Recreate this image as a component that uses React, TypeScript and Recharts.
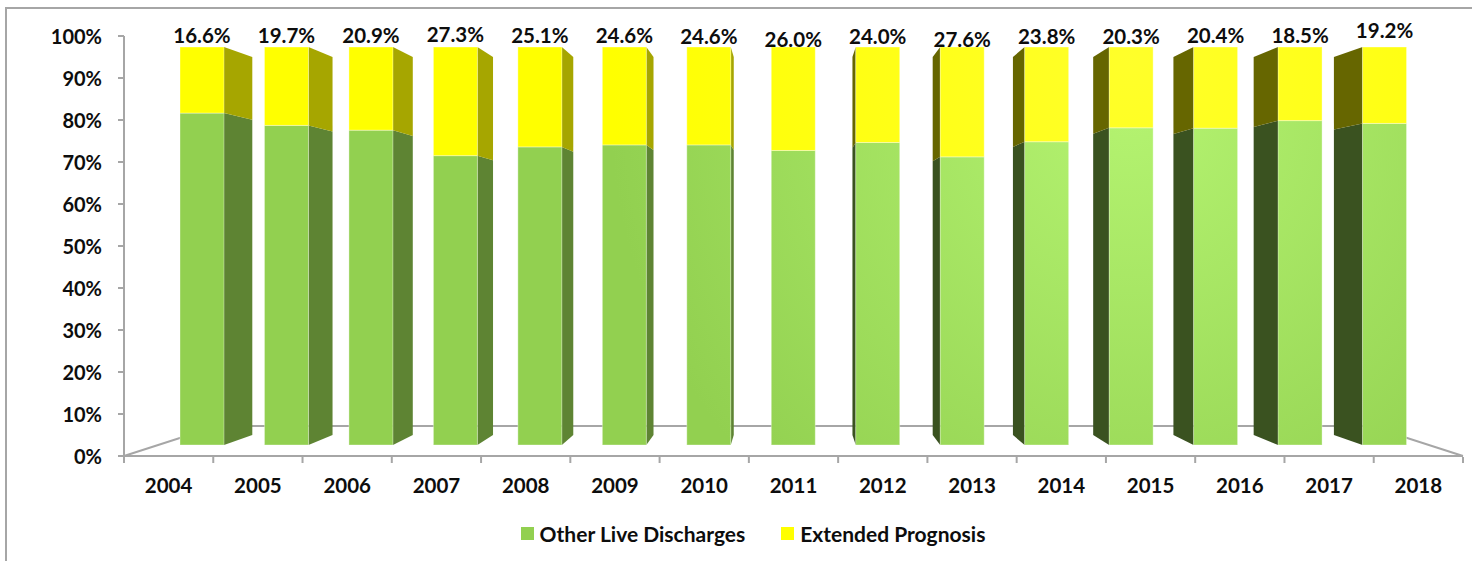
import { BarChart, Bar, XAxis, YAxis, Legend, LabelList } from "recharts";

const years = ["2004", "2005", "2006", "2007", "2008", "2009", "2010", "2011", "2012", "2013", "2014", "2015", "2016", "2017", "2018"];
const otherLive = [83.4, 80.3, 79.1, 72.7, 74.9, 75.4, 75.4, 74.0, 76.0, 72.4, 76.2, 79.7, 79.6, 81.5, 80.8];
const extended = [16.6, 19.7, 20.9, 27.3, 25.1, 24.6, 24.6, 26.0, 24.0, 27.6, 23.8, 20.3, 20.4, 18.5, 19.2];
const yTicks = [0, 10, 20, 30, 40, 50, 60, 70, 80, 90, 100];

const chartData = years.map((year, i) => ({ year, other: otherLive[i], ext: extended[i] }));

// data labels do not sit at a constant height in the original
const labelNudge = [0, 0, 0, -1, 0, 0, 1, 4, 1, 4, 1, 1, 0, 0, -5];

const FONT = "Lato, 'Noto Sans', sans-serif";
const AXIS_GREY = "#a6a6a6";
const TEXT = "#0d0d0d";

// fake 3d: everything recedes to this point
const VANISH_X = 790;
const VANISH_Y = 246;
const DEPTH = 0.05;

const back = (x: number, y: number) => [x + (VANISH_X - x) * DEPTH, y + (VANISH_Y - y) * DEPTH];

const makeBarShape = (front: string, rightSide: string, leftSide: string) => (props: any) => {
  const { x, y, width, height } = props;
  const onLeft = x + width < VANISH_X;
  const onRight = x > VANISH_X;
  const edge = onLeft ? x + width : x;
  const [bx, by1] = back(edge, y);
  const [, by2] = back(edge, y + height);
  return (
    <g>
      {(onLeft || onRight) && (
        <polygon
          points={`${edge},${y} ${bx},${by1} ${bx},${by2} ${edge},${y + height}`}
          fill={onLeft ? rightSide : leftSide}
        />
      )}
      <rect x={x} y={y} width={width} height={height} fill={front} stroke="#fff" strokeOpacity={0.35} />
    </g>
  );
};

const OtherShape = makeBarShape("url(#greenFront)", "#5e8433", "#3a5220");
const ExtendedShape = makeBarShape("url(#yellowFront)", "#a6a600", "#666600");

const YearTick = (props: any) => {
  const { x, y, payload, index } = props;
  const half = payload.offset ?? 44.6;
  const axisY = 457;
  return (
    <g>
      <line x1={x - half} x2={x - half} y1={axisY} y2={axisY + 6} stroke={AXIS_GREY} strokeWidth={2} />
      {index === years.length - 1 && (
        <line x1={x + half} x2={x + half} y1={axisY} y2={axisY + 6} stroke={AXIS_GREY} strokeWidth={2} />
      )}
      <text x={x} y={y} dy={29} textAnchor="middle" fontFamily={FONT} fontSize={20.5} fontWeight={700} fill={TEXT}>
        {payload.value}
      </text>
    </g>
  );
};

const ExtLabel = (props: any) => {
  const { x, y, width, value, index } = props;
  return (
    <text
      x={x + width / 2}
      y={y - 4 + labelNudge[index]}
      textAnchor="middle"
      fontFamily={FONT}
      fontSize={20.5}
      fontWeight={700}
      fill={TEXT}
    >
      {`${value.toFixed(1)}%`}
    </text>
  );
};

const LegendRow = ({ payload }: any) => (
  <div style={{ display: "flex", justifyContent: "center", gap: 36, paddingLeft: 34, fontFamily: FONT, fontSize: 21, fontWeight: 700, color: TEXT }}>
    {(payload ?? [])
      .filter((item: any) => item.type !== "none")
      .map((item: any) => (
        <span key={item.value} style={{ display: "flex", alignItems: "center", gap: 6 }}>
          <span style={{ width: 13, height: 13, background: item.color }} />
          {item.value}
        </span>
      ))}
  </div>
);

export default function App() {
  return (
    <div style={{ position: "absolute", left: 0, top: 0, width: 1472, height: 561, background: "#fff", overflow: "hidden" }}>
      <BarChart
        width={1472}
        height={561}
        data={chartData}
        margin={{ top: 36, right: 9, bottom: 55, left: 0 }}
        style={{ position: "absolute", left: 0, top: 0 }}
      >
        <defs>
          {/* light falls on the upper right bars only, the left ones stay flat */}
          <radialGradient id="greenFront" gradientUnits="userSpaceOnUse" cx={1130} cy={110} r={520}>
            <stop offset="0" stopColor="#b4f370" />
            <stop offset="1" stopColor="#92d050" />
          </radialGradient>
          <radialGradient id="yellowFront" gradientUnits="userSpaceOnUse" cx={1130} cy={60} r={520}>
            <stop offset="0" stopColor="#ffff2a" />
            <stop offset="1" stopColor="#ffff00" />
          </radialGradient>
        </defs>

        {/* floor of the 3d box */}
        <g stroke={AXIS_GREY} strokeWidth={2} fill="none">
          <polyline points="124,456 217,426 1370,426 1463,456" />
        </g>

        <XAxis
          xAxisId="labels"
          dataKey="year"
          height={50}
          interval={0}
          stroke={AXIS_GREY}
          strokeWidth={2}
          tickLine={false}
          tick={<YearTick />}
        />
        <XAxis xAxisId="bars" dataKey="year" hide height={0} padding={{ left: 36, right: 36 }} />
        <YAxis
          yAxisId="labels"
          width={124}
          domain={[0, 100]}
          ticks={yTicks}
          interval={0}
          tickFormatter={(v) => `${v}%`}
          stroke={AXIS_GREY}
          strokeWidth={2}
          tickMargin={16}
          tick={{ fill: TEXT, fontSize: 20, fontWeight: 700, fontFamily: FONT, dy: 1 }}
        />
        <YAxis yAxisId="bars" hide width={0} domain={[0, 100]} padding={{ top: 11, bottom: 11 }} />

        {/* draws nothing, the outer axes need a series before they give ticks */}
        <Bar
          dataKey="ext"
          xAxisId="labels"
          yAxisId="labels"
          legendType="none"
          shape={() => null}
          isAnimationActive={false}
        />
        <Bar
          name="Other Live Discharges"
          dataKey="other"
          stackId="a"
          xAxisId="bars"
          yAxisId="bars"
          barSize={44}
          fill="#92d050"
          shape={OtherShape}
          isAnimationActive={false}
        />
        <Bar
          name="Extended Prognosis"
          dataKey="ext"
          stackId="a"
          xAxisId="bars"
          yAxisId="bars"
          barSize={44}
          fill="#ffff00"
          shape={ExtendedShape}
          isAnimationActive={false}
        >
          <LabelList dataKey="ext" content={<ExtLabel />} />
        </Bar>

        <Legend
          verticalAlign="middle"
          itemSorter={null}
          content={<LegendRow />}
          wrapperStyle={{ position: "absolute", left: 0, width: 1472, top: 521, bottom: "auto" }}
        />
      </BarChart>
      {/* only the top and left edges of the frame show in the original */}
      <div style={{ position: "absolute", left: 5, top: 7, right: 0, bottom: 0, borderTop: `2px solid ${AXIS_GREY}`, borderLeft: `2px solid ${AXIS_GREY}`, pointerEvents: "none" }} />
    </div>
  );
}
